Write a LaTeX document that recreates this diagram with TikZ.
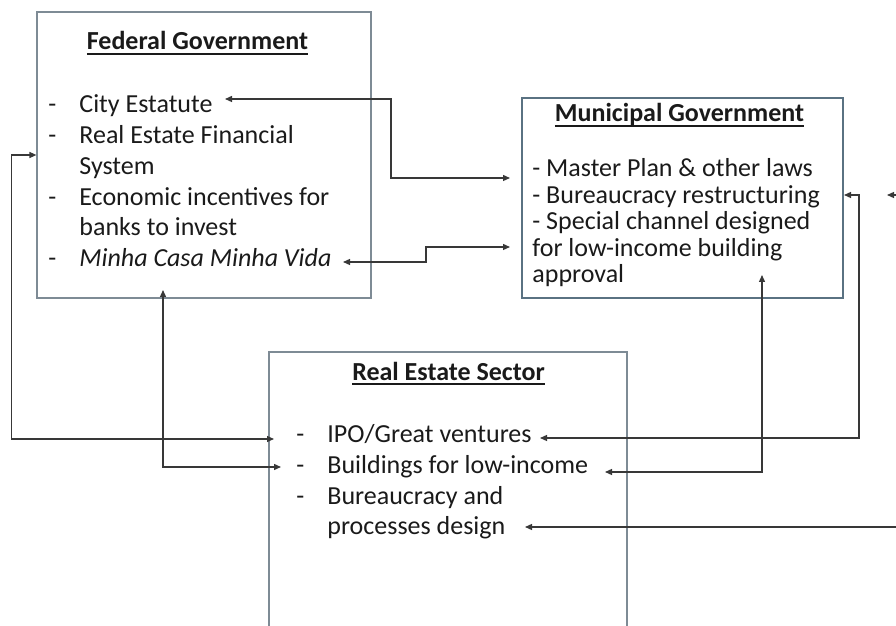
\documentclass[tikz,border=0pt]{standalone}
\usepackage{fontspec}
\setmainfont{Carlito}
\usetikzlibrary{arrows.meta}

\definecolor{panelgray}{HTML}{7E8B95}
\definecolor{panelblue}{HTML}{5A7282}
\definecolor{linkgray}{HTML}{383838}
\definecolor{inkblack}{HTML}{1A1A1A}

% bold heading with a rule under it
\newcommand{\ulhead}[1]{\setbox0=\hbox{\bfseries #1}\rlap{\rule[-2.6pt]{\wd0}{0.9pt}}\box0}

\begin{document}
\begin{tikzpicture}[x=0.5pt,y=-0.5pt,
    panel/.style={draw=panelgray, line width=0.6pt, inner sep=0pt},
    head/.style={anchor=base, inner sep=0pt, text=inkblack, font=\fontsize{13}{15}\selectfont},
    item/.style={anchor=base west, inner sep=0pt, text=inkblack, font=\fontsize{13}{15}\selectfont},
    link/.style={draw=linkgray, line width=0.65pt, >={Triangle[length=3.5pt,width=3pt]}}]
  \useasboundingbox (0,0) rectangle (896,626);
  \clip (0,0) rectangle (896,626);

  % federal level
  \node[panel, minimum width=167pt, minimum height=143pt] (fed) at (204,155) {};
  \node[head] (fedhead) at (197.5,50) {\ulhead{Federal Government}};
  \node[item] (fd1) at (48,113) {-};
  \node[item] (city) at (79,113) {City Estatute};
  \node[item] (fd2) at (48,143.7) {-};
  \node[item] (refs) at (79,143.7) {Real Estate Financial};
  \node[item] (refs2) at (79,174.4) {System};
  \node[item] (fd3) at (48,205.1) {-};
  \node[item] (econ) at (79,205.1) {Economic incentives for};
  \node[item] (econ2) at (79,235.8) {banks to invest};
  \node[item] (fd4) at (48,266.5) {-};
  \node[item] (minha) at (79,266.5) {\itshape Minha Casa Minha Vida};

  % municipal level
  \node[panel, draw=panelblue, line width=1.1pt, minimum width=160.5pt, minimum height=100pt] (mun) at (682.5,198) {};
  \node[head] (munhead) at (679.5,122) {\ulhead{Municipal Government}};
  \node[item] (plan) at (532,177) {- Master Plan \& other laws};
  \node[item] (bureau) at (532,203.5) {- Bureaucracy restructuring};
  \node[item] (chan) at (532,230) {- Special channel designed};
  \node[item] (chan2) at (532,256.5) {for low-income building};
  \node[item] (chan3) at (532,283) {approval};

  % real estate sector
  \node[panel, minimum width=179pt, minimum height=160pt] (res) at (448,512) {};
  \node[head] (reshead) at (448.5,380) {\ulhead{Real Estate Sector}};
  \node[item] (rd1) at (296,443) {-};
  \node[item] (ipo) at (327,443) {IPO/Great ventures};
  \node[item] (rd2) at (296,473.5) {-};
  \node[item] (bld) at (327,473.5) {Buildings for low-income};
  \node[item] (rd3) at (296,504) {-};
  \node[item] (proc) at (327,504) {Bureaucracy and};
  \node[item] (proc2) at (327,534.5) {processes design};

  % arrow ends
  \coordinate (cityR) at (225,99);
  \coordinate (minhaR) at (343,262);
  \coordinate (fedLow) at (163,290);
  \coordinate (ipoL) at (274,439);
  \coordinate (bldL) at (281,467);
  \coordinate (munL1) at (510,178);
  \coordinate (munL2) at (510,247);
  \coordinate (munLow) at (762,275);
  \coordinate (munR) at (844,195);
  \coordinate (ipoR) at (540,438);
  \coordinate (bldR) at (605,472);
  \coordinate (procR) at (525,527);
  \coordinate (edgeA) at (896,195);
  \coordinate (edgeB) at (896,527);

  \draw[link,<->] (fed.west) -- ++(-25,0) |- (ipoL);
  \draw[link,<->] (fedLow) |- (bldL);
  \draw[link,<->] (cityR) -- ++(166,0) |- (munL1);
  \draw[link,<->] (minhaR) -- ++(83,0) |- (munL2);
  \draw[link,<->] (munLow) |- (bldR);
  \draw[link,<->] (munR) -- ++(15,0) |- (ipoR);
  \draw[link,->] (edgeA) -- ++(-9,0);
  \draw[link,->] (edgeB) -- (procR);
\end{tikzpicture}
\end{document}
